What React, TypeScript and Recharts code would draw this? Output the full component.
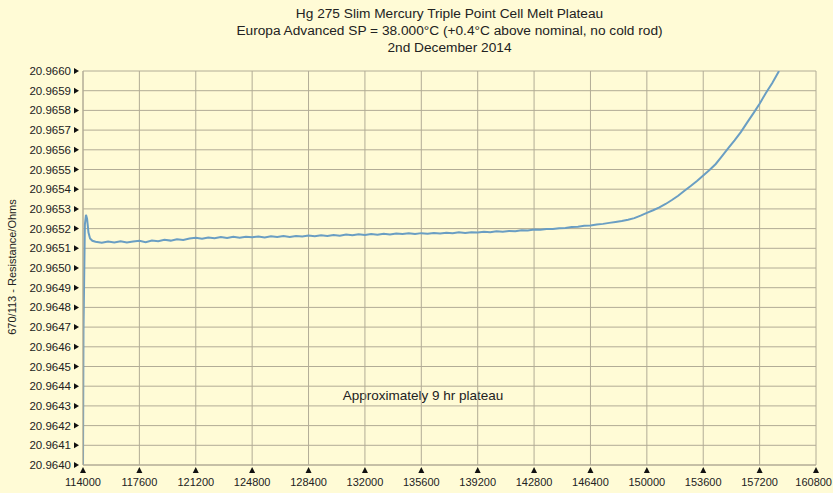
import React from "react";
import { LineChart, Line, XAxis, YAxis, CartesianGrid } from "recharts";

// elapsed time (s) and bridge reading (ohms)
const times = [
  114000, 114030, 114120, 114190, 114260, 114350, 114450, 114600,
  114800, 115200, 115600, 116000, 116400, 116800, 117200, 117600,
  118000, 118400, 118800, 119200, 119600, 120000, 120400, 120800,
  121200, 121600, 122000, 122400, 122800, 123200, 123600, 124000,
  124400, 124800, 125200, 125600, 126000, 126400, 126800, 127200,
  127600, 128000, 128400, 128800, 129200, 129600, 130000, 130400,
  130800, 131200, 131600, 132000, 132400, 132800, 133200, 133600,
  134000, 134400, 134800, 135200, 135600, 136000, 136400, 136800,
  137200, 137600, 138000, 138400, 138800, 139200, 139600, 140000,
  140400, 140800, 141200, 141600, 142000, 142400, 142800, 143200,
  143600, 144000, 144400, 144800, 145200, 145600, 146000, 146400,
  146800, 147200, 147600, 148000, 148400, 148800, 149200, 149600,
  150000, 150400, 150800, 151200, 151600, 152000, 152400, 152800,
  153200, 153600, 154000, 154400, 154800, 155200, 155600, 156000,
  156400, 156800, 157200, 157600, 158000, 158440,
];

const resistance = [
  20.964, 20.96468, 20.96522, 20.96527, 20.96525, 20.96518, 20.96515, 20.965138,
  20.965133, 20.965128, 20.965135, 20.96513, 20.965136, 20.965129, 20.965134, 20.965138,
  20.965131, 20.96514, 20.965136, 20.965143, 20.965139, 20.965146, 20.965142, 20.96515,
  20.965153, 20.965148, 20.965155, 20.965151, 20.965157, 20.965152, 20.965158, 20.965154,
  20.965159, 20.965156, 20.96516, 20.965155, 20.965161, 20.965157, 20.965162, 20.965158,
  20.965163, 20.96516, 20.965165, 20.965161, 20.965166, 20.965163, 20.965168, 20.965164,
  20.96517, 20.965166, 20.965171, 20.965168, 20.965172, 20.965169, 20.965174, 20.96517,
  20.965175, 20.965172, 20.965176, 20.965173, 20.965177, 20.965174, 20.965178, 20.965175,
  20.965179, 20.965176, 20.965181, 20.965178, 20.965182, 20.96518, 20.965184, 20.965182,
  20.965186, 20.965184, 20.965188, 20.965187, 20.965191, 20.96519, 20.965195, 20.965194,
  20.965198, 20.965198, 20.965202, 20.965203, 20.965208, 20.96521, 20.965214, 20.965216,
  20.965221, 20.965224, 20.965229, 20.965234, 20.965239, 20.965245, 20.965253, 20.965266,
  20.96528, 20.965293, 20.965308, 20.965325, 20.965345, 20.965367, 20.965392, 20.965416,
  20.965442, 20.96547, 20.965497, 20.965528, 20.965568, 20.965608, 20.965648, 20.96569,
  20.965738, 20.965785, 20.965834, 20.965888, 20.965938, 20.966,
];

const xTicks = [
  114000, 117600, 121200, 124800, 128400, 132000, 135600, 139200,
  142800, 146400, 150000, 153600, 157200, 160800,
];

const yTicks = [
  20.964, 20.9641, 20.9642, 20.9643, 20.9644, 20.9645, 20.9646, 20.9647,
  20.9648, 20.9649, 20.965, 20.9651, 20.9652, 20.9653, 20.9654, 20.9655,
  20.9656, 20.9657, 20.9658, 20.9659, 20.966,
];

const titleLines = [
  "Hg 275 Slim Mercury Triple Point Cell Melt Plateau",
  "Europa Advanced SP = 38.000°C (+0.4°C above nominal, no cold rod)",
  "2nd December 2014",
];

const data = times.map((t, i) => ({ t, r: resistance[i] }));

const FONT = "'Liberation Sans', Arial, sans-serif";
const BG = "#FFFBD6";
const GRID = "#B2AC96";

const YTick = ({ y, payload }: any) => (
  <g>
    <text x={71} y={y} dy={4} textAnchor="end" fontSize={11.5} fill="#222" fontFamily={FONT}>
      {payload.value.toFixed(4)}
    </text>
    <path d={`M74 ${y - 3} L79 ${y} L74 ${y + 3} Z`} fill="#111" />
  </g>
);

const XTick = ({ x, payload }: any) => {
  // keep the last label inside the frame
  const last = payload.value === xTicks[xTicks.length - 1];
  return (
    <g>
      <path d={`M${x - 3} 473 L${x} 467 L${x + 3} 473 Z`} fill="#111" />
      <text
        x={last ? 832 : x}
        y={486}
        textAnchor={last ? "end" : "middle"}
        fontSize={11}
        fill="#222"
        fontFamily={FONT}
      >
        {payload.value}
      </text>
    </g>
  );
};

export default function App() {
  return (
    <div style={{ position: "absolute", left: 0, top: 0, width: 833, height: 493, background: BG, fontFamily: FONT }}>
      {titleLines.map((line, i) => (
        <div
          key={i}
          style={{
            position: "absolute",
            left: 83,
            width: 733,
            top: 5 + i * 17,
            textAlign: "center",
            fontSize: 13.7,
            color: "#222",
            lineHeight: "17px",
          }}
        >
          {line}
        </div>
      ))}
      <div
        style={{
          position: "absolute",
          left: 12,
          top: 267,
          fontSize: 11,
          color: "#222",
          whiteSpace: "nowrap",
          transform: "translate(-50%, -50%) rotate(-90deg)",
        }}
      >
        670/113 - Resistance/Ohms
      </div>
      <div
        style={{
          position: "absolute",
          left: 423,
          top: 395,
          fontSize: 13.5,
          color: "#222",
          whiteSpace: "nowrap",
          transform: "translate(-50%, -50%)",
        }}
      >
        Approximately 9 hr plateau
      </div>
      <LineChart width={833} height={493} data={data} margin={{ top: 71, right: 17, bottom: 0, left: 0 }}>
        <CartesianGrid stroke={GRID} strokeWidth={1} />
        <XAxis
          dataKey="t"
          type="number"
          domain={[114000, 160800]}
          ticks={xTicks}
          interval={0}
          tick={<XTick />}
          tickLine={false}
          axisLine={{ stroke: GRID }}
          height={28}
          allowDataOverflow
        />
        <YAxis
          type="number"
          domain={[20.964, 20.966]}
          ticks={yTicks}
          interval={0}
          tick={<YTick />}
          tickLine={false}
          axisLine={{ stroke: GRID }}
          width={83}
          allowDataOverflow
        />
        <Line
          type="linear"
          dataKey="r"
          stroke="#6A9EC3"
          strokeWidth={2}
          dot={false}
          isAnimationActive={false}
        />
      </LineChart>
    </div>
  );
}
